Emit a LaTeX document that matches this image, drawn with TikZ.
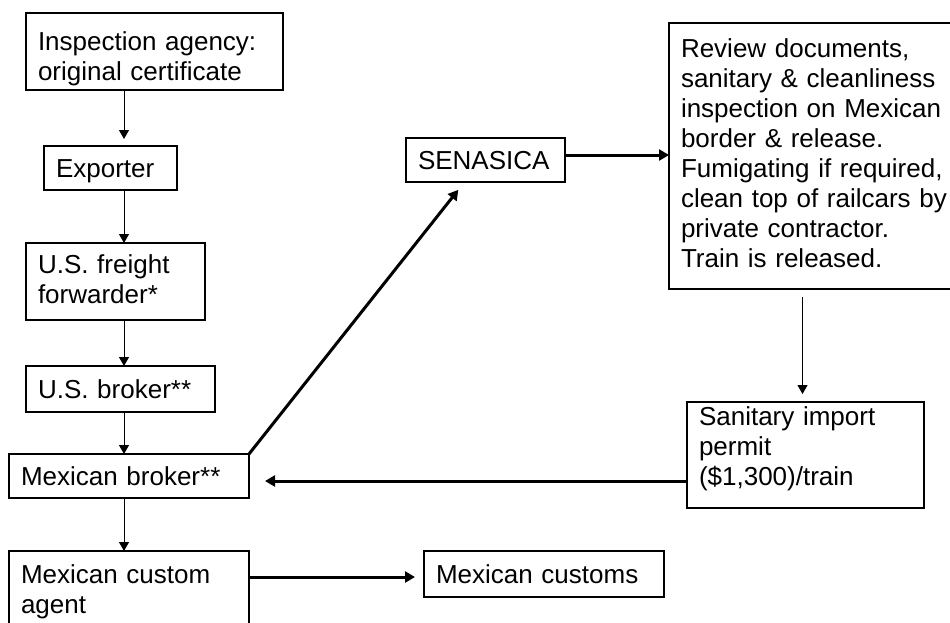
\documentclass[tikz,border=0pt]{standalone}
\usepackage{fontspec}
\setmainfont{Liberation Sans}
\usepackage{tikz}
\usetikzlibrary{arrows.meta}
\tikzset{>={Triangle[length=9pt,width=10pt]}}

\begin{document}
\begin{tikzpicture}[x=1pt, y=-1pt,
  box/.style={draw, line width=2.2pt, anchor=north west, inner xsep=12pt, inner ysep=0pt,
    outer sep=0pt, align=left, font=\fontsize{26}{30}\selectfont},
  boxw/.style={minimum width=#1, text width=#1-24pt},
  oneline/.style={text height=19pt, text depth=1pt},
  flow/.style={->, line width=1pt},
  mainflow/.style={-{Triangle[length=10pt,width=11pt]}, line width=3pt}]
  \useasboundingbox (0,0) rectangle (950,622);
  \clip (0,0) rectangle (950,622);

  \node[box, boxw=257pt, minimum height=77pt, text height=10pt, text depth=13pt] (insp) at (26,13)
    {Inspection agency:\\original certificate};
  \node[box, boxw=133pt, minimum height=44pt, oneline] (expo) at (44,146) {Exporter};
  \node[box, boxw=179pt, minimum height=77pt, text height=10pt, text depth=27pt] (fwd) at (26,243)
    {U.S. freight\\forwarder*};
  \node[box, boxw=189pt, minimum height=46pt, oneline] (usb) at (26,366) {U.S. broker**};
  \node[box, boxw=240pt, minimum height=44pt, oneline] (mxb) at (9,454) {Mexican broker**};
  \node[box, boxw=240pt, minimum height=80pt, text height=10pt, text depth=26pt] (agent) at (9,551)
    {Mexican custom\\agent};
  \node[box, boxw=159pt, minimum height=44pt, oneline] (sen) at (406,138) {SENASICA};
  \node[box, boxw=300pt, minimum height=266pt, text height=10pt, text depth=208pt] (rev) at (669,23)
    {Review documents,\\sanitary \& cleanliness\\inspection on Mexican\\border \& release.\\
     Fumigating if required,\\clean top of railcars by\\private contractor.\\Train is released.};
  \node[box, boxw=237pt, minimum height=106pt, text height=10pt, text depth=70pt] (san) at (687,402)
    {Sanitary import\\permit\\(\$1,300)/train};
  \node[box, boxw=240pt, minimum height=46pt, oneline] (cus) at (424,551) {Mexican customs};

  \coordinate (col) at (124,0);
  \draw[flow, shorten >=7pt] (insp.south -| col) -- (expo.north -| col);
  \draw[flow] (expo.south -| col) -- (fwd.north -| col);
  \draw[flow] (fwd.south -| col) -- (usb.north -| col);
  \draw[flow] (usb.south -| col) -- (mxb.north -| col);
  \draw[flow] (mxb.south -| col) -- (agent.north -| col);
  \draw[flow, shorten <=8pt, shorten >=8pt] ([xshift=-3pt]san.north |- rev.south) -- ([xshift=-3pt]san.north);

  \draw[mainflow] ([yshift=5pt]sen.east) -- ([yshift=5pt]sen.east -| rev.west);
  \draw[mainflow, shorten >=10pt] (mxb.north east) -- ([xshift=-21pt]sen.south);
  \draw[mainflow, shorten >=16pt] ([yshift=27pt]san.south west) -- ([yshift=27pt]san.south west -| mxb.east);
  \draw[mainflow, shorten >=9pt] ([yshift=-3pt]cus.west -| agent.east) -- ([yshift=-3pt]cus.west);
\end{tikzpicture}
\end{document}
